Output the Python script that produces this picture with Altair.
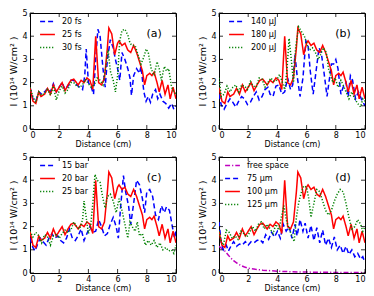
import altair as alt
import pandas as pd

# ---------------- data ----------------
# reference case (25 fs / 180 uJ / 20 bar / 100 um) - red solid in every panel
red_x = [0,0.2,0.4,0.6,0.75,1.0,1.2,1.4,1.6,1.8,2.0,2.2,2.4,2.6,2.8,3.0,3.3,3.5,3.7,3.9,
         4.1,4.3,4.5,4.6,4.7,4.9,5.1,5.3,5.4,5.6,5.8,6.0,6.1,6.3,6.5,6.7,6.9,7.1,7.3,7.5,
         7.7,7.85,8.0,8.2,8.35,8.5,8.7,8.85,9.05,9.25,9.45,9.6,9.8,10]
red_y = [1.8,1.2,1.1,1.6,1.4,1.5,1.75,1.5,1.9,1.6,1.8,2.0,1.65,1.9,2.1,2.15,1.9,2.1,2.0,2.2,
         2.1,1.7,4.0,3.0,2.0,1.9,2.2,3.5,4.35,4.1,3.2,3.7,3.8,3.6,3.7,3.4,3.3,3.6,3.3,2.9,
         2.5,1.9,2.3,2.4,2.3,2.45,2.0,1.6,2.1,1.5,1.9,1.3,1.8,1.3]

# (a) 20 fs
a_blue_x = [0,0.2,0.4,0.6,0.8,1.0,1.2,1.4,1.6,1.8,2.0,2.2,2.4,2.6,2.8,3.0,3.2,3.4,3.6,3.75,
            3.85,4.0,4.2,4.35,4.5,4.65,4.8,5.0,5.15,5.3,5.5,5.7,5.85,6.0,6.15,6.3,6.5,6.7,6.85,6.95,
            7.1,7.3,7.5,7.6,7.8,7.95,8.1,8.25,8.4,8.6,8.75,8.9,9.1,9.3,9.5,9.7,9.85,10]
a_blue_y = [1.8,1.3,1.2,1.6,1.5,1.6,1.75,1.6,1.95,1.6,1.8,2.0,1.7,1.85,2.1,2.1,1.9,1.8,1.7,2.3,
            3.45,2.0,1.8,1.5,3.0,4.3,4.0,2.6,1.8,3.0,3.85,3.5,3.0,2.6,2.1,3.3,3.0,2.6,2.2,1.45,
            2.3,2.6,2.4,2.7,1.6,1.2,1.4,1.15,1.5,1.7,1.3,1.5,1.2,1.1,0.9,1.1,0.85,1.0]
# (a) 30 fs
a_green_x = [0,0.2,0.4,0.6,0.8,1.0,1.2,1.4,1.6,1.8,2.0,2.2,2.4,2.6,2.8,3.0,3.2,3.4,3.6,3.8,
             4.0,4.2,4.4,4.6,4.8,5.0,5.2,5.35,5.5,5.7,5.85,6.0,6.15,6.3,6.5,6.7,6.85,7.0,7.2,7.4,
             7.6,7.8,7.95,8.1,8.3,8.5,8.7,8.85,9.0,9.2,9.35,9.5,9.7,9.85,10]
a_green_y = [1.8,1.4,1.15,1.6,1.45,1.55,1.7,1.45,1.85,1.25,1.65,1.85,1.55,1.7,2.0,2.0,1.85,1.8,1.9,2.15,
             1.95,1.8,1.9,2.2,2.1,1.9,2.7,3.4,2.5,2.1,1.6,2.3,3.8,4.25,4.3,4.05,3.7,3.6,3.6,3.2,
             2.8,3.1,3.45,3.3,2.6,2.3,2.9,2.6,2.1,2.7,2.5,2.6,1.8,1.6,1.5]

# (b) 140 uJ
b_blue_x = [0,0.15,0.35,0.55,0.75,0.95,1.15,1.35,1.55,1.75,1.95,2.15,2.35,2.55,2.75,2.95,3.15,3.35,3.5,3.7,
            3.9,4.1,4.3,4.5,4.7,4.9,5.05,5.2,5.35,5.55,5.75,5.95,6.1,6.25,6.45,6.65,6.85,7.0,7.2,7.4,
            7.55,7.7,7.85,8.0,8.15,8.35,8.5,8.7,8.85,9.0,9.15,9.35,9.55,9.75,10]
b_blue_y = [1.5,1.05,0.85,1.1,1.3,1.15,0.95,1.2,1.4,1.3,1.05,1.15,1.4,1.6,1.25,1.4,1.7,1.8,1.5,1.4,
            1.85,1.9,1.5,1.6,2.2,1.7,1.9,3.2,2.3,1.4,2.2,3.8,3.6,2.5,1.5,2.5,3.5,3.3,2.4,1.4,
            2.1,2.8,2.8,3.0,2.6,1.5,1.8,2.0,1.4,2.3,2.1,1.3,1.6,1.3,1.0]
# (b) 200 uJ
b_green_x = [0,0.15,0.35,0.55,0.75,0.95,1.15,1.35,1.55,1.75,1.95,2.15,2.35,2.55,2.75,2.95,3.15,3.35,3.55,3.75,
             3.95,4.15,4.35,4.5,4.65,4.8,4.95,5.1,5.25,5.45,5.65,5.85,6.05,6.2,6.4,6.6,6.8,6.95,7.15,7.35,
             7.5,7.65,7.8,7.95,8.15,8.35,8.5,8.7,8.9,9.1,9.3,9.5,9.7,9.85,10]
b_green_y = [2.2,1.4,1.5,1.85,1.6,1.8,1.9,1.6,1.9,1.85,1.7,2.05,1.85,1.8,2.2,2.15,1.8,2.0,2.2,2.05,
             2.1,2.35,2.0,1.7,2.5,3.9,3.0,2.0,3.5,4.4,4.2,4.0,3.6,3.4,3.5,3.3,3.0,3.2,3.5,3.3,
             2.6,2.3,2.0,2.2,1.8,2.1,1.9,1.6,1.3,1.6,1.3,1.1,0.95,1.3,1.2]

# (c) 15 bar
c_blue_x = [0,0.2,0.35,0.55,0.7,0.9,1.1,1.3,1.5,1.7,1.9,2.1,2.3,2.5,2.7,2.9,3.1,3.3,3.5,3.7,
            3.9,4.1,4.3,4.5,4.7,4.9,5.1,5.3,5.5,5.7,5.9,6.05,6.2,6.4,6.55,6.75,6.9,7.1,7.3,7.5,
            7.7,7.85,8.0,8.2,8.4,8.6,8.8,9.0,9.2,9.35,9.55,9.75,9.9,10]
c_blue_y = [1.5,1.1,0.95,1.3,1.5,1.35,1.2,1.5,1.7,1.5,1.6,1.4,1.3,1.5,1.9,1.5,1.4,1.6,1.9,1.4,
            1.7,2.0,1.75,1.8,2.3,2.0,1.6,1.7,2.1,2.4,2.0,1.5,2.8,4.2,3.5,2.9,2.1,3.0,4.0,3.8,
            3.2,2.6,3.5,3.6,3.3,2.5,2.3,2.9,2.6,2.85,2.7,2.0,1.5,1.8]
# (c) 25 bar
c_green_x = [0,0.2,0.4,0.6,0.8,1.0,1.2,1.4,1.6,1.8,2.0,2.2,2.4,2.6,2.8,3.0,3.2,3.4,3.6,3.7,
             3.85,4.0,4.15,4.3,4.45,4.6,4.8,5.0,5.15,5.3,5.5,5.7,5.9,6.1,6.3,6.5,6.7,6.85,7.0,7.2,
             7.35,7.5,7.7,7.9,8.1,8.3,8.5,8.7,8.9,9.1,9.3,9.5,9.7,9.85,10]
c_green_y = [1.8,1.55,1.75,1.6,1.3,1.65,1.55,1.2,1.6,1.65,1.5,1.7,1.85,1.75,1.85,2.2,2.0,1.9,2.3,3.1,
             2.4,1.7,2.0,3.0,4.25,4.0,3.9,3.2,2.8,3.3,3.4,3.1,2.6,3.2,2.7,2.1,1.5,2.2,2.0,1.8,
             2.2,1.6,1.7,1.2,1.4,1.2,1.4,1.1,1.3,1.0,1.1,0.95,1.0,0.85,1.2]

# (d) free space
d_free_x = [0,0.2,0.4,0.6,0.8,1.0,1.25,1.5,1.75,2.0,2.5,3.0,3.5,4.0,5.0,6.0,7.0,8.0,9.0,10]
d_free_y = [1.15,1.05,0.95,0.8,0.65,0.53,0.42,0.32,0.26,0.21,0.16,0.12,0.1,0.08,0.05,0.04,0.03,0.025,0.02,0.02]
# (d) 75 um
d_blue_x = [0,0.15,0.3,0.5,0.65,0.85,1.0,1.2,1.4,1.6,1.8,2.0,2.2,2.4,2.6,2.8,3.0,3.2,3.4,3.6,
            3.8,4.0,4.2,4.4,4.6,4.8,5.0,5.2,5.35,5.55,5.75,5.9,6.1,6.3,6.5,6.7,6.9,7.1,7.3,7.5,
            7.7,7.9,8.1,8.3,8.5,8.7,8.9,9.1,9.3,9.5,9.7,9.85,10]
d_blue_y = [2.2,1.3,1.0,1.2,0.95,1.2,1.35,1.15,1.25,1.2,1.35,1.2,1.35,1.3,1.4,1.45,1.3,1.65,1.45,1.75,
            1.55,1.8,1.5,2.1,1.8,2.0,1.5,2.1,1.6,2.3,1.8,2.15,1.5,2.05,1.4,1.95,1.3,1.85,1.2,1.5,
            1.1,1.55,1.0,1.2,0.85,1.15,0.8,1.0,0.7,0.85,0.6,0.7,0.45]
# (d) 125 um
d_green_x = [0,0.15,0.3,0.5,0.7,0.9,1.1,1.3,1.5,1.7,1.9,2.1,2.3,2.5,2.7,2.9,3.1,3.3,3.5,3.7,
             3.9,4.1,4.3,4.45,4.6,4.8,5.0,5.15,5.3,5.45,5.6,5.8,6.0,6.15,6.3,6.5,6.7,6.9,7.1,7.3,
             7.5,7.7,7.9,8.1,8.3,8.5,8.7,8.9,9.1,9.3,9.5,9.7,9.85,10]
d_green_y = [1.8,1.4,1.2,1.85,1.75,1.5,1.6,1.45,1.8,1.7,1.55,1.75,2.0,1.8,2.1,2.2,1.9,2.1,1.9,1.7,
             2.1,1.85,2.5,2.9,2.3,1.9,1.6,1.35,2.4,3.0,3.4,3.75,3.7,3.2,2.4,3.0,3.6,3.5,3.1,2.7,
             2.5,2.7,3.1,3.4,3.6,3.5,3.0,2.4,1.9,2.0,2.3,2.1,1.8,2.0]

x_ticks = [0, 2, 4, 6, 8, 10]
y_ticks = [0, 1, 2, 3, 4, 5]

BLUE, RED, GREEN, MAG = "#0000ff", "#ff0000", "#008000", "#bf00bf"
DASHED, SOLID, DOTTED, DASHDOT = [5, 3], [1, 0], [1.2, 1.8], [5, 2, 1.2, 2]

W, H = 146, 116
FONT = "DejaVu Sans"


def series_df(pairs):
    rows = []
    for name, xs, ys in pairs:
        assert len(xs) == len(ys), name
        rows += [{"x": a, "y": b, "s": name} for a, b in zip(xs, ys)]
    return pd.DataFrame(rows)


def panel(pairs, colors, dashes, label, legend_x):
    names = [p[0] for p in pairs]
    df = series_df(pairs)
    xs = alt.Scale(domain=[0, 10], nice=False, zero=False)
    ys = alt.Scale(domain=[0, 5], nice=False)
    xax = alt.Axis(values=x_ticks, title="Distance (cm)", labelPadding=2, titlePadding=1)
    yax = alt.Axis(values=y_ticks, title="I (10¹⁴ W/cm² )", labelPadding=3, titlePadding=3,
                   titleFontSize=9.5)
    leg = alt.Legend(title=None, orient="none", legendX=legend_x, legendY=0,
                     symbolType="stroke", symbolSize=220, symbolStrokeWidth=1.5,
                     labelFontSize=8, labelFont=FONT, labelColor="black",
                     labelOffset=6, rowPadding=-3, padding=0)
    lines = alt.Chart(df).mark_line(strokeWidth=1.5, clip=True).encode(
        x=alt.X("x:Q", scale=xs, axis=xax),
        y=alt.Y("y:Q", scale=ys, axis=yax),
        color=alt.Color("s:N", scale=alt.Scale(domain=names, range=colors), legend=leg),
        strokeDash=alt.StrokeDash("s:N", scale=alt.Scale(domain=names, range=dashes), legend=leg),
    )
    xt = pd.DataFrame({"x": x_ticks})
    yt = pd.DataFrame({"y": y_ticks})
    tk = dict(color="black", strokeWidth=0.8)
    tb = alt.Chart(xt).mark_rule(**tk).encode(x=alt.X("x:Q", scale=xs, axis=xax),
                                              y=alt.value(H), y2=alt.value(H - 4))
    tt = alt.Chart(xt).mark_rule(**tk).encode(x=alt.X("x:Q", scale=xs, axis=xax),
                                              y=alt.value(0), y2=alt.value(4))
    tl = alt.Chart(yt).mark_rule(**tk).encode(y=alt.Y("y:Q", scale=ys, axis=yax),
                                              x=alt.value(0), x2=alt.value(4))
    tr = alt.Chart(yt).mark_rule(**tk).encode(y=alt.Y("y:Q", scale=ys, axis=yax),
                                              x=alt.value(W), x2=alt.value(W - 4))
    lab = alt.Chart(pd.DataFrame({"x": [8.5], "y": [4.1], "t": [label]})).mark_text(
        fontSize=11, font=FONT, color="black").encode(
        x=alt.X("x:Q", scale=xs, axis=xax), y=alt.Y("y:Q", scale=ys, axis=yax), text="t:N")
    return alt.layer(lines, tb, tt, tl, tr, lab).properties(width=W, height=H)


pa = panel([("20 fs", a_blue_x, a_blue_y), ("25 fs", red_x, red_y), ("30 fs", a_green_x, a_green_y)],
           [BLUE, RED, GREEN], [DASHED, SOLID, DOTTED], "(a)", 9)
pb = panel([("140 μJ", b_blue_x, b_blue_y), ("180 μJ", red_x, red_y), ("200 μJ", b_green_x, b_green_y)],
           [BLUE, RED, GREEN], [DASHED, SOLID, DOTTED], "(b)", 9)
pc = panel([("15 bar", c_blue_x, c_blue_y), ("20 bar", red_x, red_y), ("25 bar", c_green_x, c_green_y)],
           [BLUE, RED, GREEN], [DASHED, SOLID, DOTTED], "(c)", 9)
pd_ = panel([("free space", d_free_x, d_free_y), ("75 μm", d_blue_x, d_blue_y),
             ("100 μm", red_x, red_y), ("125 μm", d_green_x, d_green_y)],
            [MAG, BLUE, RED, GREEN], [DASHDOT, DASHED, SOLID, DOTTED], "(d)", 5)

row1 = alt.hconcat(pa, pb, spacing=20).resolve_scale(color="independent", strokeDash="independent")
row2 = alt.hconcat(pc, pd_, spacing=20).resolve_scale(color="independent", strokeDash="independent")
chart = alt.vconcat(row1, row2, spacing=3).resolve_scale(
    color="independent", strokeDash="independent"
).properties(
    padding={"left": 0, "top": 0, "right": 0, "bottom": 0}, background="white"
).configure_view(
    stroke="black", strokeWidth=1
).configure_axis(
    grid=False, domain=False, ticks=False, labelFontSize=8, titleFontSize=8,
    labelFont=FONT, titleFont=FONT, labelColor="black", titleColor="black",
    titleFontWeight="normal"
)

chart.save("out.html", embed_options={"renderer": "svg", "actions": False})
